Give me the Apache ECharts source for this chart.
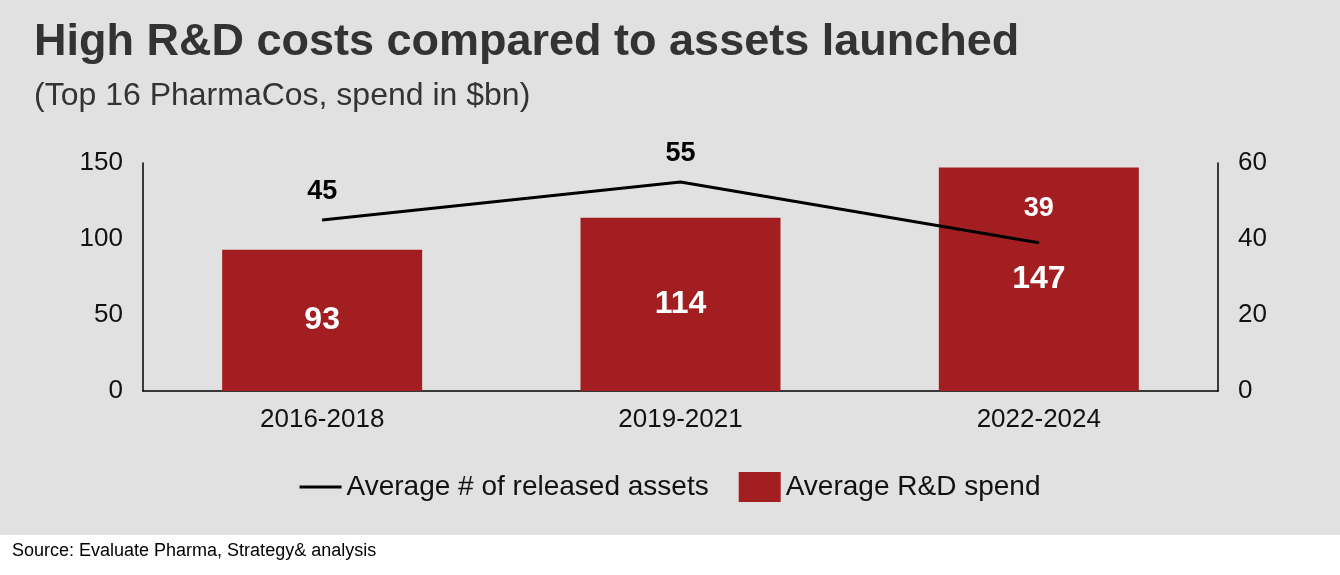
<!DOCTYPE html><html><head><meta charset="utf-8"><script src="https://cdn.jsdelivr.net/npm/echarts@6/dist/echarts.min.js"></script>
<style>html,body{margin:0;background:#fff}#c{width:1340px;height:575px}</style></head><body><div id="c"></div><script>
const categories=['2016-2018','2019-2021','2022-2024'];
const rdSpend=[93,114,147];
const assets=[45,55,39];
const F='Liberation Sans, Arial, sans-serif';
const c=echarts.init(document.getElementById('c'));
c.setOption({
 animation:false,
 graphic:[{type:'rect',z:-10,shape:{x:0,y:0,width:1340,height:535},style:{fill:'#e1e1e1'}},
  {type:'text',left:34,top:20,style:{text:'High R&D costs compared to assets launched',font:'bold 45px '+F,fill:'#333'}},
  {type:'text',left:34,top:80,style:{text:'(Top 16 PharmaCos, spend in $bn)',font:'32px '+F,fill:'#333'}},
  {type:'text',left:12,top:542,style:{text:'Source: Evaluate Pharma, Strategy& analysis',font:'18px '+F,fill:'#000'}}],
 grid:{left:143,right:122,top:163,bottom:184},
 legend:{bottom:68,left:'center',itemGap:30,textStyle:{fontSize:28,fontFamily:F,color:'#111'},itemWidth:42,itemHeight:30,
  data:[{name:'Average # of released assets',icon:'path://M0,14h40v3h-40z'},{name:'Average R&D spend',icon:'rect'}]},
 xAxis:{type:'category',data:categories,axisLine:{lineStyle:{color:'#000',width:1.5}},axisTick:{show:false},axisLabel:{fontSize:26,fontFamily:F,color:'#111',margin:16}},
 yAxis:[{type:'value',min:0,max:150,interval:50,splitLine:{show:false},axisLine:{show:true,lineStyle:{color:'#000',width:1.5}},axisLabel:{fontSize:26,fontFamily:F,color:'#111',margin:20}},
  {type:'value',min:0,max:60,interval:20,splitLine:{show:false},axisLine:{show:true,lineStyle:{color:'#000',width:1.5}},axisLabel:{fontSize:26,fontFamily:F,color:'#111',margin:20}}],
 series:[{name:'Average R&D spend',type:'bar',data:rdSpend,barWidth:200,itemStyle:{color:'#a31e21'},
   label:{show:true,position:'inside',color:'#fff',fontSize:32,fontWeight:'bold',fontFamily:F}},
  {name:'Average # of released assets',type:'line',yAxisIndex:1,data:assets.map((v,i)=>i===2?{value:v,label:{color:'#fff',distance:20}}:v),
   symbol:'circle',symbolSize:1,showSymbol:true,lineStyle:{color:'#000',width:3},itemStyle:{color:'#000'},z:5,
   label:{show:true,position:'top',distance:14,color:'#000',fontSize:27,fontWeight:'bold',fontFamily:F}}]
});
</script></body></html>
